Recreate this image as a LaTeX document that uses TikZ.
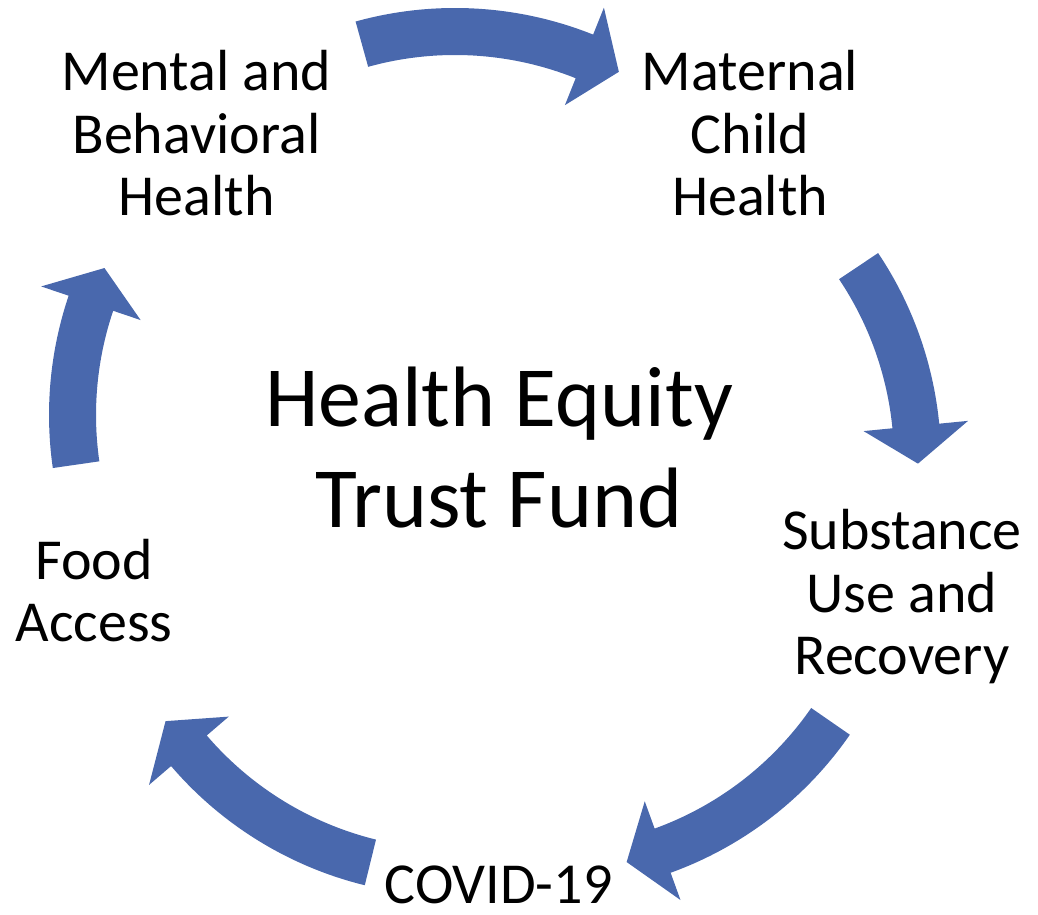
\documentclass[tikz,border=0pt]{standalone}
\usepackage{fontspec}
\setmainfont{Carlito}
\usetikzlibrary{positioning}
\definecolor{cycleblue}{RGB}{73,104,173}
\tikzset{
  cyclearrow/.style={fill=cycleblue, draw=none},
  topic/.style={align=center, anchor=base, inner sep=0pt,
    font=\fontsize{16.5}{17.9}\selectfont},
  hub/.style={align=center, anchor=base, inner sep=0pt,
    font=\fontsize{24.4}{29}\selectfont}
}

\begin{document}
\begin{tikzpicture}[x=0.1mm, y=0.1mm]
      \useasboundingbox (0,0) rectangle (1038,915);
      % ring of block arrows: centre x, centre y, tail angle, head angle
      \def\ro{372} \def\ri{325}
      \foreach \cx/\cy/\t/\b [evaluate=\b as \tip using \b-6.2] in
          {455/535/105.5/68.2, 569/455/33.8/5.6, 544/392/-34.7/-70.1,
           453.5/391/-103.8/-139.4, 421/500/188.2/161.3}
      {
        \fill[cyclearrow] ([shift={(\cx,\cy)}]\t:\ro)
          arc[start angle=\t, end angle=\b, radius=\ro]
          -- ([shift={(\cx,\cy)}]\b:401) -- ([shift={(\cx,\cy)}]\tip:349)
          -- ([shift={(\cx,\cy)}]\b:296) -- ([shift={(\cx,\cy)}]\b:\ri)
          arc[start angle=\b, end angle=\t, radius=\ri] -- cycle;
      }
      % labels (base anchor sits on the last line)
      \node[hub] (fund) at (499,387) {Health Equity\\Trust Fund};
      \node[topic] (mental) at (196.5,699) {Mental and\\Behavioral\\Health};
      \node[topic] (maternal) at (750,699) {Maternal\\Child\\Health};
      \node[topic] (substance) at (902,240) {Substance\\Use and\\Recovery};
      \node[topic] (covid) at (498.5,11) {COVID-19};
      \node[topic] (food) at (94,273) {Food\\Access};
    \end{tikzpicture}
\end{document}
